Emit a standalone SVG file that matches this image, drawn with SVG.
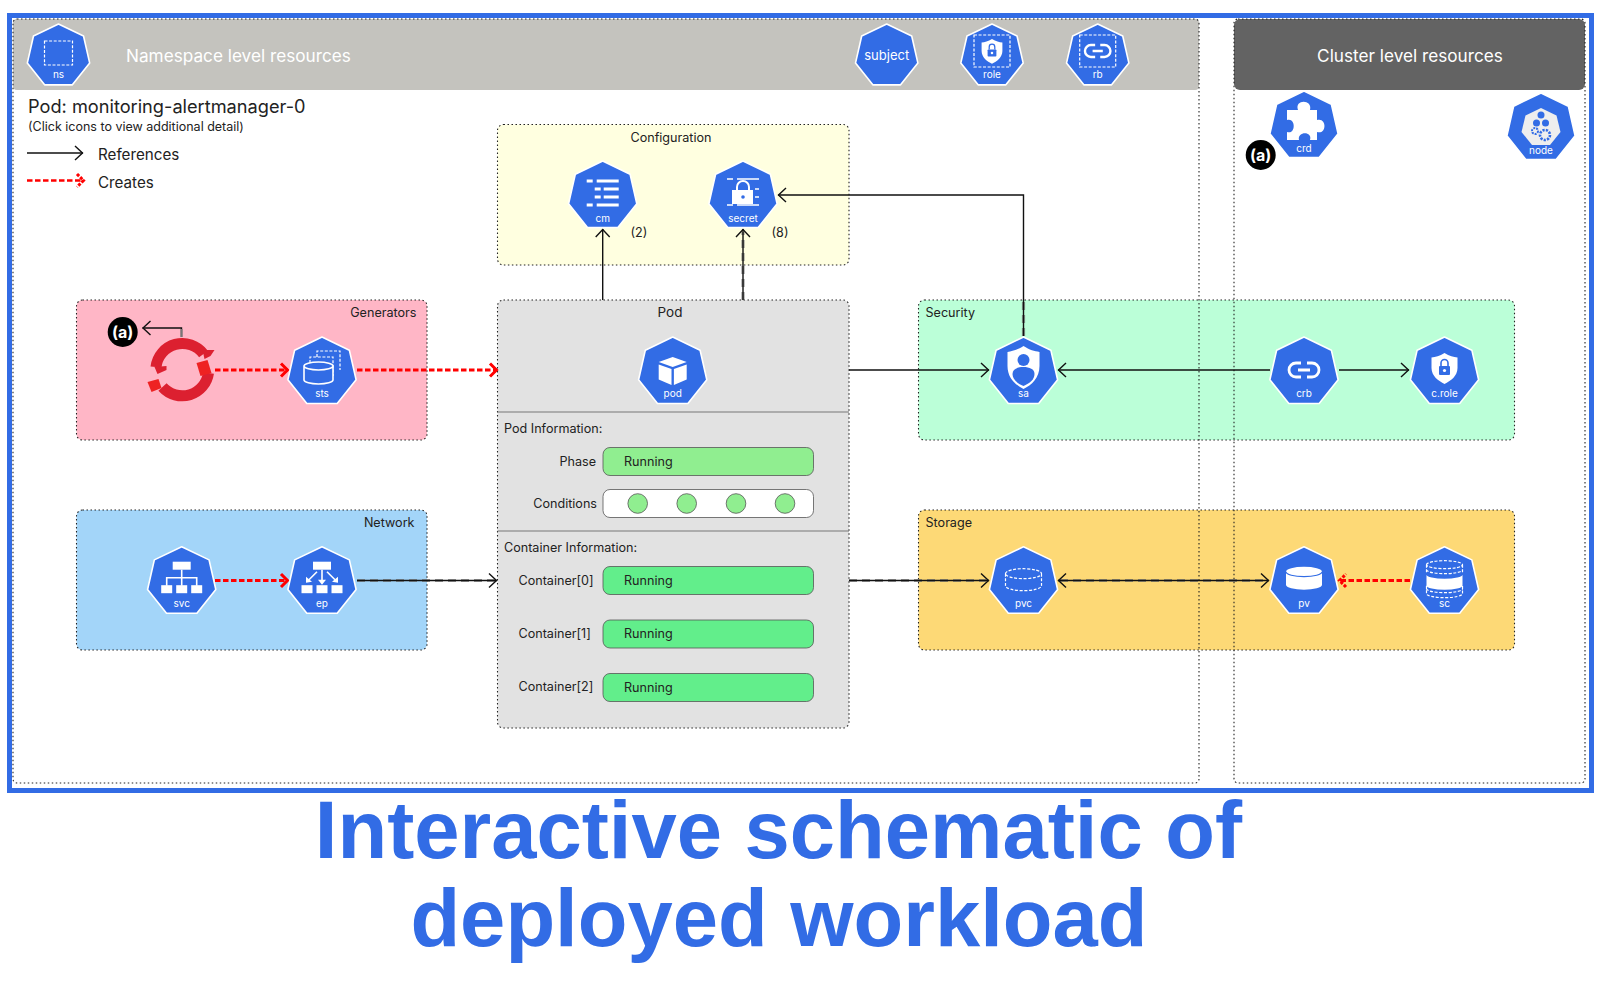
<svg xmlns="http://www.w3.org/2000/svg" xmlns:xlink="http://www.w3.org/1999/xlink" width="1598" height="986" viewBox="0 0 1598 986">
<style>
text{font-family:"Inter","Liberation Sans",sans-serif;fill:#222}
.panel{stroke:#222;stroke-width:1.1;stroke-dasharray:1.5 2.5}
.zone{fill:none;stroke:#222;stroke-width:1.1;stroke-dasharray:1.5 2.5}
.t13{font-size:12.6px}
.hex{fill:#326ce5;stroke:#fff;stroke-width:1.6;stroke-linejoin:round}
.lbl{font-size:10px;fill:#fff;text-anchor:middle}
.w{fill:#fff}
.b{fill:#326ce5}
.ws{fill:none;stroke:#fff;stroke-width:1.6}
.wd{fill:none;stroke:#fff;stroke-width:1.2;stroke-dasharray:3 1.6}
.wt{fill:none;stroke:#fff;stroke-width:3}
.ref{fill:none;stroke:#111;stroke-width:1.4;marker-end:url(#ah)}
.ov{fill:none;stroke:#777;stroke-opacity:.75;stroke-width:3.2;stroke-dasharray:8 5}
.cr{fill:none;stroke:#f00;stroke-width:3;stroke-dasharray:5.5 2.5;marker-end:url(#ar)}
.bar{stroke:#555;stroke-width:.8}
.c{fill:#90ee90;stroke:#555;stroke-width:.8}
.a{font-size:16px;font-weight:700;fill:#fff;text-anchor:middle}
.title{font-family:"Liberation Sans",Arial,sans-serif;font-weight:700;font-size:81.4px;fill:#326ce5;text-anchor:middle}
</style>
<defs>
<marker id="ah" markerUnits="userSpaceOnUse" markerWidth="20" markerHeight="20" refX="9" refY="10" orient="auto"><path d="M1,3 L8.5,10 L1,17" fill="none" stroke="#111" stroke-width="1.4"/></marker>
<marker id="ar" markerUnits="userSpaceOnUse" markerWidth="20" markerHeight="20" refX="10" refY="10" orient="auto"><path d="M3,3.5 L9.5,10 L3,16.5" fill="none" stroke="#f00" stroke-width="3"/></marker>
<marker id="ard" markerUnits="userSpaceOnUse" markerWidth="20" markerHeight="20" refX="10" refY="10" orient="auto"><path d="M3,3.5 L9.5,10 L3,16.5" fill="none" stroke="#f00" stroke-width="3" stroke-dasharray="3 1.5"/></marker>
<polygon id="h35" class="hex" points="0,-35 27.36,-21.82 34.12,7.79 15.19,31.53 -15.19,31.53 -34.12,7.79 -27.36,-21.82"/>
<polygon id="h32" class="hex" points="0,-32 25.02,-19.95 31.2,7.12 13.88,28.83 -13.88,28.83 -31.2,7.12 -25.02,-19.95"/>
<path id="link" d="M-3,-7 H-8 A7,7 0 0 0 -8,7 H-3 M3,-7 H8 A7,7 0 0 1 8,7 H3 M-6,0 H6" fill="none" stroke="#fff" stroke-width="2.8"/>
<g id="shieldlock">
<path class="w" d="M0,-15 C5,-12 9,-11 13,-10.5 V0 C13,8 6,13 0,16 C-6,13 -13,8 -13,0 V-10.5 C-9,-11 -5,-12 0,-15Z"/>
<path d="M-3.5,-2 V-5 A3.5,3.5 0 0 1 3.5,-5 V-2" fill="none" stroke="#326ce5" stroke-width="1.6"/>
<rect class="b" x="-5.5" y="-2" width="11" height="9" rx="1"/>
<circle class="w" cx="0" cy="2.5" r="1.6"/>
</g>
<g id="drum"><path class="w" d="M-18,-7 A18,5 0 0 1 18,-7 V6 A18,5 0 0 1 -18,6Z"/><path d="M-18,-7 A18,5 0 0 0 18,-7" fill="none" stroke="#326ce5" stroke-width="1.2"/></g>
</defs>

<rect width="1598" height="986" fill="#fff"/>
<rect x="9.5" y="15.5" width="1582" height="775" fill="#fff" stroke="#326ce5" stroke-width="5"/>
<rect x="13" y="19" width="1186" height="71" rx="4" fill="#c4c3be"/>
<rect x="1234" y="19" width="351" height="71" rx="6" fill="#636363"/>

<g id="panels">
<rect id="panel-config" class="panel" x="497.5" y="124.5" width="351.5" height="140.5" rx="6" fill="#ffffe0"/>
<rect id="panel-generators" class="panel" x="76.5" y="300" width="350.5" height="140" rx="6" fill="#ffb6c6"/>
<rect id="panel-network" class="panel" x="76.5" y="510" width="350.5" height="140" rx="6" fill="#a3d5f9"/>
<rect id="panel-security" class="panel" x="918.5" y="300" width="596" height="140" rx="6" fill="#bbffd8"/>
<rect id="panel-storage" class="panel" x="918.5" y="510" width="596" height="140" rx="6" fill="#fdd976"/>
<rect id="panel-pod" class="panel" x="497.5" y="300" width="351.5" height="428" rx="6" fill="#e2e2e2"/>
<path d="M497.5,412 H849 M497.5,531 H849" stroke="#777" stroke-width="1.2" fill="none"/>
</g>
<rect class="zone" x="13" y="19" width="1186" height="764" rx="4"/>
<rect class="zone" x="1234" y="19" width="351" height="764" rx="4"/>

<g id="texts">
<text x="126" y="61.5" font-size="17.2" style="fill:#fff">Namespace level resources</text>
<text x="1410" y="61.5" font-size="17.2" text-anchor="middle" style="fill:#fff">Cluster level resources</text>
<text x="28" y="113" font-size="18.2">Pod: monitoring-alertmanager-0</text>
<text x="28" y="131" font-size="12.5">(Click icons to view additional detail)</text>
<text x="98" y="159.5" font-size="15.2">References</text>
<text x="98" y="187.5" font-size="15.2">Creates</text>
<text class="t13" x="671" y="141.5" text-anchor="middle">Configuration</text>
<text class="t13" x="630.5" y="237">(2)</text>
<text class="t13" x="771.5" y="237">(8)</text>
<text class="t13" x="416.5" y="316.5" text-anchor="end">Generators</text>
<text class="t13" x="414.5" y="526.5" text-anchor="end">Network</text>
<text class="t13" x="925.5" y="316.5">Security</text>
<text class="t13" x="925.5" y="526.5">Storage</text>
<text font-size="13.5" x="670" y="316.5" text-anchor="middle">Pod</text>
<text class="t13" x="504" y="432.5">Pod Information:</text>
<text class="t13" x="504" y="551.5">Container Information:</text>
<text class="t13" x="596" y="466" text-anchor="end">Phase</text>
<text class="t13" x="597" y="507.5" text-anchor="end">Conditions</text>
<text class="t13" x="518.5" y="584.5">Container[0]</text>
<text class="t13" x="518.5" y="638">Container[1]</text>
<text class="t13" x="518.5" y="691">Container[2]</text>
</g>

<g id="status">
<rect class="bar" x="603" y="447.5" width="210.5" height="28" rx="7" fill="#90ee90"/>
<rect class="bar" x="603" y="489.5" width="210.5" height="28" rx="7" fill="#fff"/>
<circle class="c" cx="637.7" cy="503.5" r="9.8"/><circle class="c" cx="686.7" cy="503.5" r="9.8"/><circle class="c" cx="736" cy="503.5" r="9.8"/><circle class="c" cx="785" cy="503.5" r="9.8"/>
<rect class="bar" x="603" y="566.5" width="210.5" height="28" rx="7" fill="#62ee8b"/>
<rect class="bar" x="603" y="620" width="210.5" height="28" rx="7" fill="#62ee8b"/>
<rect class="bar" x="603" y="673.5" width="210.5" height="28" rx="7" fill="#62ee8b"/>
<text class="t13" x="624" y="465.5">Running</text>
<text class="t13" x="624" y="584.5">Running</text>
<text class="t13" x="624" y="638">Running</text>
<text class="t13" x="624" y="691.5">Running</text>
</g>

<g id="connectors">
<path class="ref" d="M27,153 H83"/>
<path class="cr" style="stroke-width:2.5;marker-end:url(#ard)" d="M27,180.5 H84"/>
<path class="ref" d="M181.5,337 V328 H142.5"/>
<path d="M181.5,337 V329" stroke="#777" stroke-width="2" fill="none"/>
<path class="cr" d="M215,370 H288"/>
<path class="cr" d="M357,370 H497"/>
<path class="cr" d="M215,580.5 H288"/>
<path class="ov" d="M357,580.5 H495"/>
<path class="ref" d="M357,580.5 H497"/>
<path class="ref" d="M602.7,300 V229"/>
<path class="ov" d="M743,300 V232"/>
<path class="ref" d="M743,300 V229"/>
<path class="ov" d="M1023.5,336 V300"/>
<path class="ref" d="M1023.5,336 V195 H778"/>
<path class="ref" d="M849,370 H989"/>
<path class="ref" d="M1270,370 H1058"/>
<path class="ref" d="M1339,370 H1409"/>
<path class="ov" d="M849,580.5 H986"/>
<path class="ref" d="M849,580.5 H989"/>
<path class="ov" d="M1060,580.5 H1266"/>
<path class="ref" d="M1058,580.5 H1269"/>
<path d="M1066,573.5 L1058.5,580.5 L1066,587.5" fill="none" stroke="#111" stroke-width="1.4"/>
<path class="cr" style="marker-end:url(#ard)" d="M1410,580.5 H1339"/>
</g>

<g id="a-left"><circle cx="122.7" cy="332" r="15" fill="#000"/><text class="a" x="122.7" y="337.5">(a)</text></g>
<g id="a-right"><circle cx="1260.7" cy="155" r="15" fill="#000"/><text class="a" x="1260.7" y="160.5">(a)</text></g>

<g id="node-rh" transform="translate(182.5,370)">
<path d="M-26.5,-3 A26.5,26.5 0 0 1 21,-16" fill="none" stroke="#dc2030" stroke-width="11"/>
<path d="M26,3 A26.5,26.5 0 0 1 -20,17" fill="none" stroke="#dc2030" stroke-width="11"/>
<polygon points="20,-20 32,-20 28,-14 22,-11" fill="#dc2030"/>
<polygon points="-28,-3 -16,-4 -16,0 -25,4" fill="#dc2030"/>
<polygon points="14,-7 25,-10 29,3 18,6" fill="#ee2222"/>
<polygon points="-35,12 -24,9 -21,18 -31,22" fill="#ee2222"/>
</g>

<g id="node-ns" transform="translate(58.5,56)"><use xlink:href="#h32" href="#h32"/>
<rect class="wd" x="-14" y="-15" width="28" height="24"/>
<text class="lbl" y="22">ns</text></g>

<g id="node-subject" transform="translate(886.7,56)"><use xlink:href="#h32" href="#h32"/>
<text y="3.5" font-size="13" text-anchor="middle" style="fill:#fff">subject</text></g>

<g id="node-role" transform="translate(992,56)"><use xlink:href="#h32" href="#h32"/>
<rect class="wd" x="-18" y="-21" width="36" height="32"/>
<use xlink:href="#shieldlock" href="#shieldlock" transform="translate(0,-5) scale(.8)"/>
<text class="lbl" y="22">role</text></g>

<g id="node-rb" transform="translate(1097.7,56)"><use xlink:href="#h32" href="#h32"/>
<rect class="wd" x="-18" y="-21" width="36" height="32"/>
<use xlink:href="#link" href="#link" transform="translate(0,-5) scale(.85)"/>
<text class="lbl" y="22">rb</text></g>

<g id="node-crd" transform="translate(1304,126)"><use xlink:href="#h35" href="#h35"/>
<path class="w" d="M-17,-16 H-6 C-10,-27 9,-27 6,-16 H13 V-6 C23,-9 23,9 13,6 V14 H6 C9,5 -7,5 -5,14 H-17 V6 C-8,9 -8,-9 -17,-6 Z"/>
<text class="lbl" y="26">crd</text></g>

<g id="node-node" transform="translate(1541,128)"><use xlink:href="#h35" href="#h35"/>
<polygon points="0,-20 15.5,-12.5 19.5,4 9,17 -9,17 -19.5,4 -15.5,-12.5" fill="#eee"/>
<circle class="b" cx="0" cy="-13" r="3.5"/><circle class="b" cx="-4.5" cy="-5" r="3.5"/><circle class="b" cx="4.5" cy="-5" r="3.5"/>
<circle cx="-6" cy="3" r="3" fill="none" stroke="#326ce5" stroke-width="2" stroke-dasharray="2 1"/>
<circle cx="4" cy="7" r="5" fill="none" stroke="#326ce5" stroke-width="2.6" stroke-dasharray="2.2 1.2"/>
<text class="lbl" y="26">node</text></g>

<g id="node-cm" transform="translate(602.7,196)"><use xlink:href="#h35" href="#h35"/>
<path class="wt" d="M-16,-15 H-10 M-6,-15 H16 M-8,-7 H-2 M1,-7 H16 M-8,1 H-2 M1,1 H16 M-16,9 H-10 M-6,9 H16"/>
<text class="lbl" y="26">cm</text></g>

<g id="node-secret" transform="translate(743,196)"><use xlink:href="#h35" href="#h35"/>
<path class="ws" d="M-16,-17 H-10 M-6,-17 H16 M12,-7 H16 M12,1 H16 M-16,9 H-10 M-6,9 H16"/>
<path d="M-6,-6 V-9 A6,6 0 0 1 6,-9 V-6" fill="none" stroke="#fff" stroke-width="2"/>
<rect class="w" x="-11" y="-6" width="21" height="14"/>
<circle class="b" cx="0" cy="1" r="1.8"/>
<text class="lbl" y="26">secret</text></g>

<g id="node-sts" transform="translate(322,372)"><use xlink:href="#h35" href="#h35"/>
<path class="wd" d="M-12,-9 V-15 H11 V4 M-5,-15 V-21 H18 V-2"/>
<path d="M-18,-6 A14.5,4 0 0 1 11,-6 V8 A14.5,4 0 0 1 -18,8Z M-18,-6 A14.5,4 0 0 0 11,-6" fill="#326ce5" stroke="#fff" stroke-width="1.6"/>
<text class="lbl" y="25">sts</text></g>

<g id="node-pod" transform="translate(672.7,372)"><use xlink:href="#h35" href="#h35"/>
<polygon class="w" points="0,-15 14,-10 0,-5 -14,-10"/>
<polygon class="w" points="-14,-7.5 -1.2,-3 -1.2,13 -14,7.5"/>
<polygon class="w" points="14,-7.5 1.2,-3 1.2,13 14,7.5"/>
<text class="lbl" y="25">pod</text></g>

<g id="node-svc" transform="translate(181.7,581.7)"><use xlink:href="#h35" href="#h35"/>
<rect class="w" x="-9" y="-20" width="18" height="8"/>
<path class="ws" d="M0,-12 V4 M-15,4 V-4 H15 V4"/>
<rect class="w" x="-20.5" y="3.5" width="11" height="8"/><rect class="w" x="-5.5" y="3.5" width="11" height="8"/><rect class="w" x="9.5" y="3.5" width="11" height="8"/>
<text class="lbl" y="25">svc</text></g>

<g id="node-ep" transform="translate(322,581.7)"><use xlink:href="#h35" href="#h35"/>
<rect class="w" x="-9" y="-20" width="18" height="8"/>
<path class="ws" d="M0,-12 V-1 M-5,-10 L-13,-2 M5,-10 L13,-2"/>
<path class="w" d="M-4,-2 H4 L0,3Z M-16,-5 L-10,0 L-16,1Z M16,-5 L10,0 L16,1Z"/>
<rect class="w" x="-20.5" y="3.5" width="11" height="8"/><rect class="w" x="-5.5" y="3.5" width="11" height="8"/><rect class="w" x="9.5" y="3.5" width="11" height="8"/>
<text class="lbl" y="25">ep</text></g>

<g id="node-sa" transform="translate(1023.5,372)"><use xlink:href="#h35" href="#h35"/>
<path class="w" d="M0,-26 C6,-22 11,-21 16,-20 V-6 C16,6 8,13 0,17 C-8,13 -16,6 -16,-6 V-20 C-11,-21 -6,-22 0,-26Z"/>
<circle class="b" cx="0" cy="-12" r="6"/>
<path class="b" d="M0,14 C-7,11 -11,7 -11,2 C-11,-3 -6,-5 0,-5 C6,-5 11,-3 11,2 C11,7 7,11 0,14Z"/>
<text class="lbl" y="25">sa</text></g>

<g id="node-crb" transform="translate(1304,372)"><use xlink:href="#h35" href="#h35"/>
<use xlink:href="#link" href="#link" transform="translate(0,-2)"/>
<text class="lbl" y="25">crb</text></g>

<g id="node-crole" transform="translate(1444.5,372)"><use xlink:href="#h35" href="#h35"/>
<use xlink:href="#shieldlock" href="#shieldlock" transform="translate(0,-4)"/>
<text class="lbl" y="25">c.role</text></g>

<g id="node-pvc" transform="translate(1023.5,581.7)"><use xlink:href="#h35" href="#h35"/>
<path class="wd" d="M-18,-8 A18,5 0 0 1 18,-8 A18,5 0 0 1 -18,-8 M-18,-8 V4 A18,5 0 0 0 18,4 V-8"/>
<text class="lbl" y="25">pvc</text></g>

<g id="node-pv" transform="translate(1304,581.7)"><use xlink:href="#h35" href="#h35"/>
<use xlink:href="#drum" href="#drum" transform="translate(0,-3)"/>
<text class="lbl" y="25">pv</text></g>

<g id="node-sc" transform="translate(1444.5,581.7)"><use xlink:href="#h35" href="#h35"/>
<path class="wd" d="M-18,-17 A18,4 0 0 1 18,-17 A18,4 0 0 1 -18,-17 M-18,-17 V-9 M18,-17 V-9 M-18,-12 A18,4 0 0 0 18,-12"/>
<path class="w" d="M-18,-7 A18,4 0 0 0 18,-7 V4 A18,4 0 0 1 -18,4Z"/>
<path class="wd" d="M-18,4 V12 A18,4 0 0 0 18,12 V4 M-18,7 A18,4 0 0 0 18,7"/>
<text class="lbl" y="25">sc</text></g>

<text class="title" x="778.5" y="858">Interactive schematic of</text>
<text class="title" x="779" y="946">deployed workload</text>
</svg>
